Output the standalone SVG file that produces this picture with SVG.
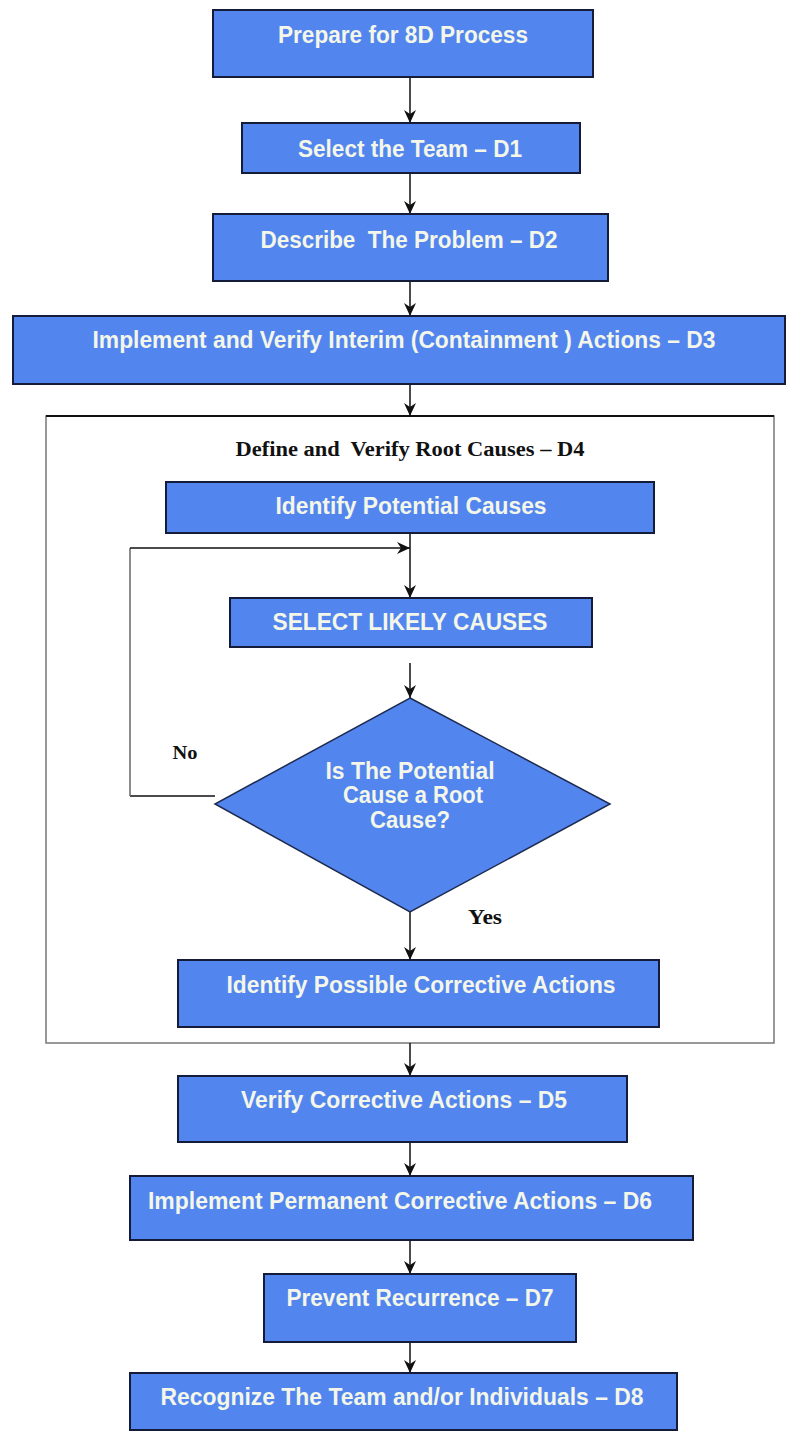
<svg xmlns="http://www.w3.org/2000/svg" width="788" height="1432" viewBox="0 0 788 1432">
  <style>
    .box { fill: #5286ee; stroke: #141c3a; stroke-width: 2; }
    .dia { fill: #5286ee; stroke: #1e2a50; stroke-width: 1.5; }
    .lbl { font-family: "Liberation Sans", Arial, sans-serif; font-weight: bold; font-size: 23px; fill: #f3f6e8; text-anchor: middle; }
    .ser { font-family: "Liberation Serif", "Times New Roman", serif; font-weight: bold; fill: #111; text-anchor: middle; }
    .ln { fill: none; stroke: #111; stroke-width: 1.5; }
    .gray { fill: none; stroke: #666; stroke-width: 1.5; }
  </style>
  <defs>
    <marker id="arrow" markerUnits="userSpaceOnUse" markerWidth="13" markerHeight="12" refX="13" refY="6" orient="auto">
      <path d="M0,0 L13,6 L0,12 L4,6 z" fill="#111"/>
    </marker>
  </defs>
  <rect width="788" height="1432" fill="#ffffff"/>

  <!-- D4 frame -->
  <g id="d4-frame">
    <rect x="46" y="416" width="728" height="627" fill="none" stroke="#777" stroke-width="1.5"/>
    <line x1="46" y1="416" x2="774" y2="416" stroke="#111" stroke-width="2"/>
    <text class="ser" x="410" y="456" font-size="20" xml:space="preserve" textLength="349" lengthAdjust="spacingAndGlyphs">Define and  Verify Root Causes – D4</text>
  </g>

  <!-- connectors -->
  <g id="connectors">
    <line class="ln" x1="410" y1="77" x2="410" y2="123" marker-end="url(#arrow)"/>
    <line class="ln" x1="410" y1="173" x2="410" y2="214" marker-end="url(#arrow)"/>
    <line class="ln" x1="410" y1="281" x2="410" y2="316" marker-end="url(#arrow)"/>
    <line class="ln" x1="410" y1="384" x2="410" y2="416" marker-end="url(#arrow)"/>
    <line class="ln" x1="410" y1="533" x2="410" y2="598" marker-end="url(#arrow)"/>
    <line class="ln" x1="410" y1="663" x2="410" y2="698" marker-end="url(#arrow)"/>
    <line class="ln" x1="410" y1="912" x2="410" y2="960" marker-end="url(#arrow)"/>
    <line class="ln" x1="410" y1="1043" x2="410" y2="1076" marker-end="url(#arrow)"/>
    <line class="ln" x1="410" y1="1142" x2="410" y2="1176" marker-end="url(#arrow)"/>
    <line class="ln" x1="410" y1="1240" x2="410" y2="1274" marker-end="url(#arrow)"/>
    <line class="ln" x1="410" y1="1342" x2="410" y2="1373" marker-end="url(#arrow)"/>
    <!-- "No" loop back to likely causes -->
    <line class="ln" x1="215" y1="796" x2="130" y2="796"/>
    <line class="gray" x1="130" y1="796" x2="130" y2="548"/>
    <line class="ln" x1="130" y1="548" x2="410" y2="548" marker-end="url(#arrow)"/>
    <text class="ser" x="185" y="759" font-size="19" textLength="25" lengthAdjust="spacingAndGlyphs">No</text>
    <text class="ser" x="485" y="924" font-size="20" textLength="34" lengthAdjust="spacingAndGlyphs">Yes</text>
  </g>

  <g id="prepare">
    <rect class="box" x="213" y="10" width="380" height="67"/>
    <text class="lbl" x="403" y="43" textLength="250" lengthAdjust="spacingAndGlyphs">Prepare for 8D Process</text>
  </g>
  <g id="d1">
    <rect class="box" x="242" y="123" width="338" height="50"/>
    <text class="lbl" x="410" y="157" textLength="224" lengthAdjust="spacingAndGlyphs">Select the Team – D1</text>
  </g>
  <g id="d2">
    <rect class="box" x="213" y="214" width="395" height="67"/>
    <text class="lbl" x="409" y="248" xml:space="preserve" textLength="297" lengthAdjust="spacingAndGlyphs">Describe  The Problem – D2</text>
  </g>
  <g id="d3">
    <rect class="box" x="13" y="316" width="772" height="68"/>
    <text class="lbl" x="404" y="348" textLength="623" lengthAdjust="spacingAndGlyphs">Implement and Verify Interim (Containment ) Actions – D3</text>
  </g>
  <g id="potential-causes">
    <rect class="box" x="166" y="482" width="488" height="51"/>
    <text class="lbl" x="411" y="514" textLength="271" lengthAdjust="spacingAndGlyphs">Identify Potential Causes</text>
  </g>
  <g id="likely-causes">
    <rect class="box" x="230" y="598" width="362" height="49"/>
    <text class="lbl" x="410" y="630" textLength="275" lengthAdjust="spacingAndGlyphs">SELECT LIKELY CAUSES</text>
  </g>
  <g id="root-cause-check">
    <polygon class="dia" points="410,698 610,804 410,912 215,804"/>
    <text class="lbl" x="410" y="779" textLength="169" lengthAdjust="spacingAndGlyphs">Is The Potential</text>
    <text class="lbl" x="413" y="803" textLength="140" lengthAdjust="spacingAndGlyphs">Cause a Root</text>
    <text class="lbl" x="410" y="828" textLength="80" lengthAdjust="spacingAndGlyphs">Cause?</text>
  </g>
  <g id="corrective-options">
    <rect class="box" x="178" y="960" width="481" height="67"/>
    <text class="lbl" x="421" y="993" textLength="389" lengthAdjust="spacingAndGlyphs">Identify Possible Corrective Actions</text>
  </g>
  <g id="d5">
    <rect class="box" x="178" y="1076" width="449" height="66"/>
    <text class="lbl" x="404" y="1108" textLength="326" lengthAdjust="spacingAndGlyphs">Verify Corrective Actions – D5</text>
  </g>
  <g id="d6">
    <rect class="box" x="130" y="1176" width="563" height="64"/>
    <text class="lbl" x="400" y="1209" textLength="504" lengthAdjust="spacingAndGlyphs">Implement Permanent Corrective Actions – D6</text>
  </g>
  <g id="d7">
    <rect class="box" x="264" y="1274" width="312" height="68"/>
    <text class="lbl" x="420" y="1306" textLength="267" lengthAdjust="spacingAndGlyphs">Prevent Recurrence – D7</text>
  </g>
  <g id="d8">
    <rect class="box" x="130" y="1373" width="547" height="57"/>
    <text class="lbl" x="402" y="1405" textLength="483" lengthAdjust="spacingAndGlyphs">Recognize The Team and/or Individuals – D8</text>
  </g>
</svg>
